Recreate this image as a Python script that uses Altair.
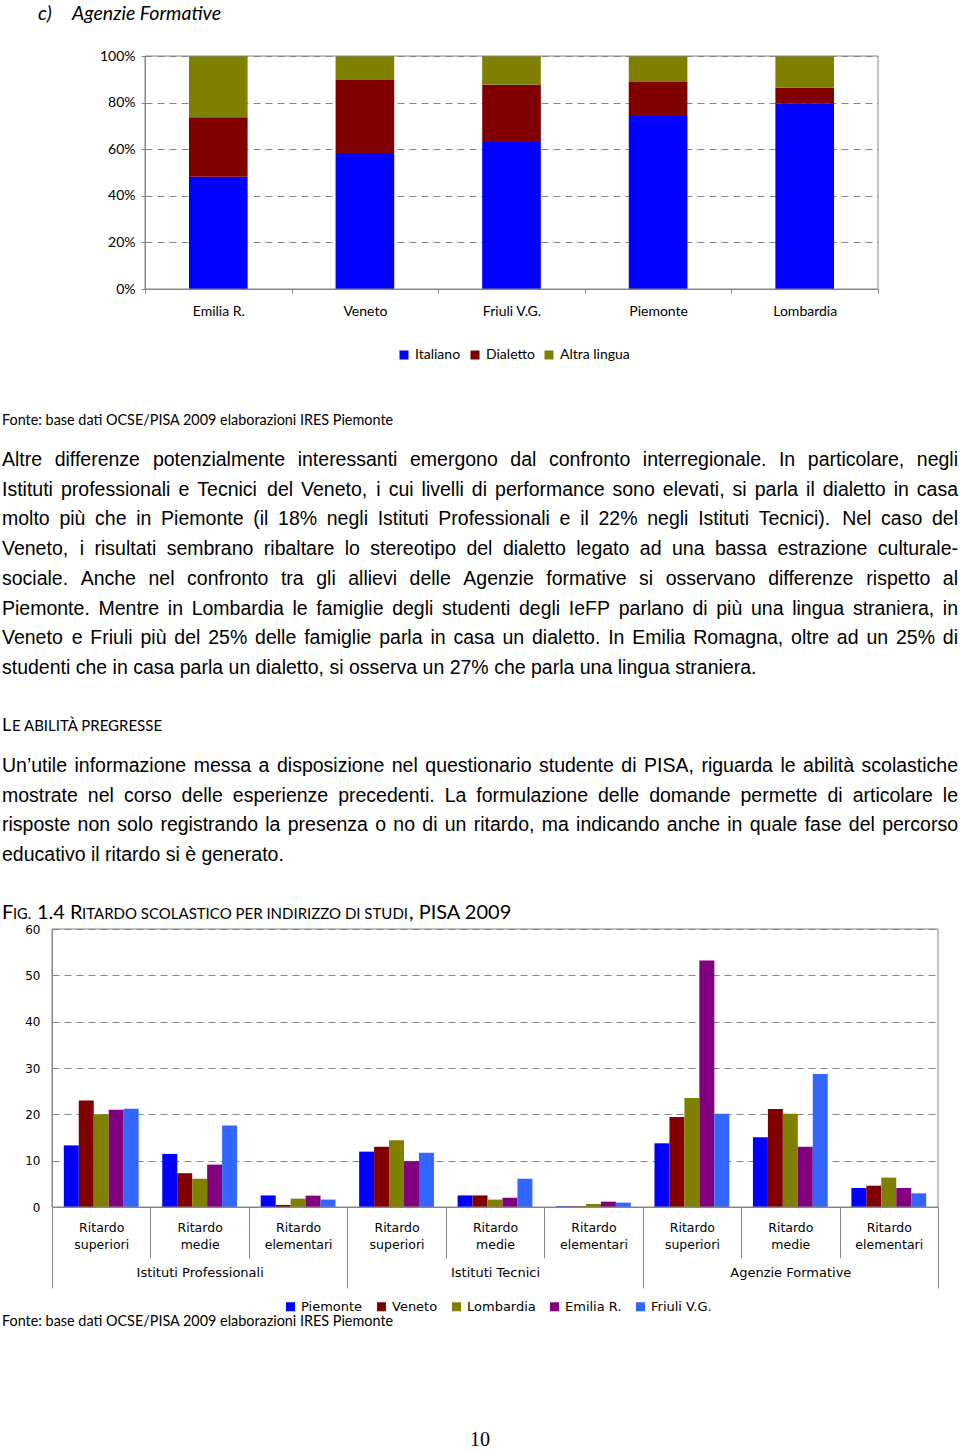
import altair as alt
import pandas as pd

W, H = 960, 1451

# ---------------- data: c) Agenzie Formative (stacked 100%) ----------------
regions1 = ["Emilia R.", "Veneto", "Friuli V.G.", "Piemonte", "Lombardia"]
langs = ["Italiano", "Dialetto", "Altra lingua"]
italiano = [48.2, 57.9, 63.1, 74.2, 79.5]
dialetto = [25.5, 31.8, 24.6, 14.6, 6.9]
altra_lingua = [26.3, 10.3, 12.3, 11.2, 13.6]
pct_ticks = [0, 20, 40, 60, 80, 100]

# ---------------- data: Fig. 1.4 ritardo scolastico ----------------
levels = ["Ritardo superiori", "Ritardo medie", "Ritardo elementari"]
groups = ["Istituti Professionali", "Istituti Tecnici", "Agenzie Formative"]
regions2 = ["Piemonte", "Veneto", "Lombardia", "Emilia R.", "Friuli V.G."]
piemonte = [13.3, 11.45, 2.5, 11.95, 2.5, 0.15, 13.75, 15.05, 4.1]
veneto = [23.0, 7.3, 0.45, 13.0, 2.5, 0.15, 19.4, 21.15, 4.6]
lombardia = [20.0, 6.1, 1.8, 14.4, 1.6, 0.65, 23.5, 20.1, 6.35]
emilia = [21.0, 9.15, 2.45, 9.9, 2.0, 1.15, 53.2, 13.0, 4.1]
friuli = [21.2, 17.6, 1.6, 11.7, 6.1, 0.95, 20.1, 28.7, 2.95]
y2_ticks = [0, 10, 20, 30, 40, 50, 60]

# ---------------- page text ----------------
title_parts = ["c)", "Agenzie Formative"]
fonte = "Fonte: base dati OCSE/PISA 2009 elaborazioni IRES Piemonte"
para1 = [
    "Altre differenze potenzialmente interessanti emergono dal confronto interregionale. In particolare, negli",
    "Istituti professionali e Tecnici del Veneto, i cui livelli di performance sono elevati, si parla il dialetto in casa",
    "molto più che in Piemonte (il 18% negli Istituti Professionali e il 22% negli Istituti Tecnici). Nel caso del",
    "Veneto, i risultati sembrano ribaltare lo stereotipo del dialetto legato ad una bassa estrazione culturale-",
    "sociale. Anche nel confronto tra gli allievi delle Agenzie formative si osservano differenze rispetto al",
    "Piemonte. Mentre in Lombardia le famiglie degli studenti degli IeFP parlano di più una lingua straniera, in",
    "Veneto e Friuli più del 25% delle famiglie parla in casa un dialetto. In Emilia Romagna, oltre ad un 25% di",
    "studenti che in casa parla un dialetto, si osserva un 27% che parla una lingua straniera.",
]
heading_parts = ["L", "E ABILITÀ PREGRESSE"]
para2 = [
    "Un’utile informazione messa a disposizione nel questionario studente di PISA, riguarda le abilità scolastiche",
    "mostrate nel corso delle esperienze precedenti. La formulazione delle domande permette di articolare le",
    "risposte non solo registrando la presenza o no di un ritardo, ma indicando anche in quale fase del percorso",
    "educativo il ritardo si è generato.",
]
fig_parts = ["F", "IG.", "1.4", "R", "ITARDO SCOLASTICO PER INDIRIZZO DI STUDI", ", PISA 2009"]
page_number = "10"

# ---------------- styles / layout ----------------
LANG_COLORS = ["#0000FF", "#800000", "#808000"]
REG_COLORS = ["#0000FF", "#800000", "#808000", "#800080", "#3366FF"]
GRAY = "#868686"
SANS = "Lato"
BODY_FONT = "Liberation Sans"
CHART2_FONT = "DejaVu Sans"
P1 = dict(left=145, right=878, top=56, bottom=289)
P2 = dict(left=52, right=938, top=929, bottom=1207)

# ---------------- chart 1 ----------------
rows1 = []
for k, (lang, vals) in enumerate(zip(langs, [italiano, dialetto, altra_lingua])):
    for r, v in zip(regions1, vals):
        rows1.append({"region": r, "lang": lang, "value": v, "k": k})
df1 = pd.DataFrame(rows1)

bars1 = alt.Chart(df1).mark_bar(width=alt.RelativeBandSize(0.4)).encode(
    x=alt.X("region:N", sort=regions1,
            scale=alt.Scale(range=[P1["left"], P1["right"]], paddingInner=0, paddingOuter=0),
            axis=alt.Axis(title=None, orient="bottom", offset=P1["bottom"] - H, labelAngle=0,
                          tickBand="extent", tickSize=4, tickColor=GRAY, domainColor=GRAY,
                          labelFont=SANS, labelFontSize=14, labelColor="black", labelPadding=11)),
    y=alt.Y("value:Q", stack="zero",
            scale=alt.Scale(domain=[0, 100], range=[P1["bottom"], P1["top"]], nice=False),
            axis=alt.Axis(title=None, orient="left", offset=-P1["left"], values=pct_ticks,
                          labelExpr="datum.value + '%'", tickSize=4, tickColor=GRAY, domainColor=GRAY,
                          labelFont=SANS, labelFontSize=14, labelColor="black", labelPadding=6,
                          grid=True, gridColor=GRAY, gridDash=[7, 5])),
    color=alt.Color("lang:N", sort=langs, scale=alt.Scale(domain=langs, range=LANG_COLORS),
                    legend=alt.Legend(orient="none", legendX=397, legendY=348, direction="horizontal",
                                      title=None, symbolType="square", symbolSize=81, symbolStrokeWidth=0,
                                      labelFont=SANS, labelFontSize=14, labelColor="black",
                                      labelOffset=4, columnPadding=7)),
    order=alt.Order("k:Q"),
)
frame1 = alt.Chart(pd.DataFrame({"a": [0]})).mark_rect(fillOpacity=0, stroke=GRAY, strokeWidth=1).encode(
    x=alt.value(P1["left"]), x2=alt.value(P1["right"]), y=alt.datum(100), y2=alt.datum(0))
chart1 = alt.layer(bars1, frame1)

# ---------------- chart 2 ----------------
cats = [f"{g}|{l}" for g in groups for l in levels]
rows2 = []
for reg, vals in zip(regions2, [piemonte, veneto, lombardia, emilia, friuli]):
    for i, v in enumerate(vals):
        rows2.append({"cat": cats[i], "region": reg, "value": v})
df2 = pd.DataFrame(rows2)

bars2 = alt.Chart(df2).mark_bar().encode(
    x=alt.X("cat:N", sort=cats,
            scale=alt.Scale(range=[P2["left"], P2["right"]], paddingInner=0, paddingOuter=0),
            axis=alt.Axis(title=None, orient="bottom", offset=P2["bottom"] - H, labelAngle=0,
                          tickBand="extent", tickSize=51, labelPadding=-37, tickColor=GRAY, domainColor=GRAY,
                          labelExpr="datum.label ? split(split(datum.label, '|')[1], ' ') : ''",
                          labelLineHeight=17, labelFont=CHART2_FONT, labelFontSize=12.5, labelColor="black")),
    xOffset=alt.XOffset("region:N", sort=regions2, scale=alt.Scale(paddingInner=0, paddingOuter=0.79)),
    y=alt.Y("value:Q", scale=alt.Scale(domain=[0, 60], range=[P2["bottom"], P2["top"]], nice=False),
            axis=alt.Axis(title=None, orient="left", offset=-P2["left"], values=y2_ticks, ticks=False,
                          domainColor=GRAY, labelFont=CHART2_FONT, labelFontSize=12, labelColor="black",
                          labelPadding=12, grid=True, gridColor=GRAY, gridDash=[7, 5])),
    color=alt.Color("region:N", sort=regions2, scale=alt.Scale(domain=regions2, range=REG_COLORS),
                    legend=alt.Legend(orient="none", legendX=284, legendY=1300, direction="horizontal",
                                      title=None, symbolType="square", symbolSize=81, symbolStrokeWidth=0,
                                      labelFont=CHART2_FONT, labelFontSize=13, labelColor="black",
                                      labelOffset=4, columnPadding=12)),
)
frame2 = alt.Chart(pd.DataFrame({"a": [0]})).mark_rect(fillOpacity=0, stroke=GRAY, strokeWidth=1).encode(
    x=alt.value(P2["left"]), x2=alt.value(P2["right"]), y=alt.datum(60), y2=alt.datum(0))
chart2 = alt.layer(bars2, frame2)

group_axis = alt.Chart(pd.DataFrame({"group": groups})).mark_point(opacity=0).encode(
    x=alt.X("group:N", sort=groups,
            scale=alt.Scale(type="band", range=[P2["left"], P2["right"]], paddingInner=0, paddingOuter=0),
            axis=alt.Axis(title=None, orient="bottom", offset=P2["bottom"] - H, labelAngle=0, domain=False,
                          tickBand="extent", tickSize=81, labelPadding=-22, tickColor=GRAY,
                          labelFont=CHART2_FONT, labelFontSize=13, labelColor="black")),
    y=alt.value(0),
)

# ---------------- justified body text (Liberation Sans = Arial metrics) ----------------
ARIAL = {" ": 278, "!": 278, "%": 889, "’": 222, "'": 191, "(": 333, ")": 333, ",": 278, "-": 333,
         ".": 278, "/": 278, ":": 278, ";": 278,
         "A": 667, "B": 667, "C": 722, "D": 722, "E": 667, "F": 611, "G": 778, "H": 722, "I": 278,
         "J": 500, "K": 667, "L": 556, "M": 833, "N": 722, "O": 778, "P": 667, "Q": 778, "R": 722,
         "S": 667, "T": 611, "U": 722, "V": 667, "W": 944, "X": 667, "Y": 667, "Z": 611,
         "a": 556, "b": 556, "c": 500, "d": 556, "e": 556, "f": 278, "g": 556, "h": 556, "i": 222,
         "j": 222, "k": 500, "l": 222, "m": 833, "n": 556, "o": 556, "p": 556, "q": 556, "r": 333,
         "s": 500, "t": 278, "u": 556, "v": 500, "w": 722, "x": 500, "y": 500, "z": 500,
         "à": 556, "è": 556, "é": 556, "ì": 278, "ò": 556, "ù": 556}


def em(s):
    return sum(ARIAL.get(ch, 556) for ch in s) / 1000.0


LEFT, RIGHT = 2, 958
justified = para1[:-1] + para2[:-1]
FS_BODY = min(19.5, (RIGHT - LEFT - 6) / max(em(l) for l in justified))

left_rows, right_rows = [], []
LINE = 29.72
for base, para in [(466, para1), (772, para2)]:
    for i, line in enumerate(para):
        y = base + i * LINE
        if i == len(para) - 1:
            left_rows.append({"x": LEFT, "y": y, "text": line})
            continue
        words = line.split(" ")
        widths = [em(w) * FS_BODY for w in words]
        gap = (RIGHT - LEFT - sum(widths)) / (len(words) - 1)
        x = LEFT
        for w, wd in zip(words[:-1], widths[:-1]):
            left_rows.append({"x": x, "y": y, "text": w})
            x += wd + gap
        right_rows.append({"x": RIGHT, "y": y, "text": words[-1]})


def text_layer(df, **mark):
    enc = dict(
        x=alt.X("x:Q", scale=None, axis=None),
        y=alt.Y("y:Q", scale=None, axis=None),
        text=alt.Text("text:N"),
    )
    if "fs" in df.columns:
        enc["size"] = alt.Size("fs:Q", scale=None, legend=None)
    base = dict(baseline="alphabetic", color="black")
    base.update(mark)
    return alt.Chart(df).mark_text(**base).encode(**enc)


t_body_l = text_layer(pd.DataFrame(left_rows), align="left", font=BODY_FONT, fontSize=FS_BODY)
t_body_r = text_layer(pd.DataFrame(right_rows), align="right", font=BODY_FONT, fontSize=FS_BODY)
t_title = text_layer(pd.DataFrame({"x": [38, 72], "y": [19.5, 19.5], "text": title_parts}),
                     align="left", font=SANS, fontStyle="italic", fontSize=19.5)
t_fonte = text_layer(pd.DataFrame({"x": [2, 2], "y": [424.5, 1325.5], "text": [fonte, fonte]}),
                     align="left", font=SANS, fontSize=14.4)
caps = pd.DataFrame({
    "x": [2, 12, 2, 13, 37, 70, 82, 409],
    "y": [731, 731, 919, 919, 919, 919, 919, 919],
    "fs": [18, 15, 20, 14.5, 20, 20, 15, 20],
    "text": heading_parts + fig_parts,
})
t_caps = text_layer(caps, align="left", font=SANS)
t_page = text_layer(pd.DataFrame({"x": [480], "y": [1446], "text": [page_number]}),
                    align="center", font="Liberation Serif", fontSize=20)

page = alt.layer(
    chart1, chart2, group_axis, t_title, t_fonte, t_body_l, t_body_r, t_caps, t_page
).resolve_scale(
    x="independent", y="independent", color="independent"
).properties(
    width=W, height=H, autosize=alt.AutoSizeParams(type="none"), padding=0
).configure_view(strokeWidth=0)

page.save("out.html", embed_options={"renderer": "svg", "actions": False})
